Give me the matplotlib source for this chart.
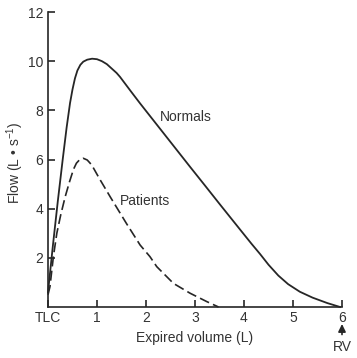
import matplotlib
matplotlib.use("Agg")
import matplotlib.pyplot as plt

plt.rcParams['font.family'] = ['Liberation Sans', 'DejaVu Sans']
plt.rcParams['mathtext.fontset'] = 'custom'
plt.rcParams['mathtext.rm'] = 'Liberation Sans'
plt.rcParams['mathtext.it'] = 'Liberation Sans:italic'

# ---- data ----
normals_vol = [0.0, 0.1, 0.2, 0.3, 0.38, 0.45, 0.5, 0.55, 0.6, 0.66, 0.72, 0.8, 0.9,
               1.0, 1.1, 1.2, 1.3, 1.4, 1.47, 1.7, 1.88, 2.22, 2.56, 2.9, 3.2, 3.51,
               3.92, 4.15, 4.33, 4.5, 4.7, 4.9, 5.14, 5.4, 5.7, 5.96]
normals_flow = [0.6, 2.5, 4.3, 6.0, 7.3, 8.3, 8.85, 9.3, 9.62, 9.85, 9.98, 10.06, 10.1,
                10.08, 10.0, 9.88, 9.7, 9.52, 9.36, 8.75, 8.28, 7.42, 6.56, 5.7, 4.95,
                4.17, 3.15, 2.58, 2.15, 1.72, 1.28, 0.93, 0.62, 0.38, 0.16, 0.0]

patients_vol = [0.0, 0.04, 0.11, 0.18, 0.26, 0.35, 0.44, 0.52, 0.58, 0.64, 0.72, 0.8,
                0.86, 0.92, 1.05, 1.27, 1.6, 1.88, 2.08, 2.22, 2.56, 2.9, 3.24, 3.48]
patients_flow = [0.5, 0.83, 2.05, 3.0, 3.75, 4.48, 5.1, 5.6, 5.85, 5.98, 6.05, 5.98,
                 5.85, 5.68, 5.22, 4.48, 3.4, 2.52, 2.05, 1.64, 0.96, 0.56, 0.22, 0.0]

x_ticks = [0, 1, 2, 3, 4, 5, 6]
x_tick_labels = ['TLC', '1', '2', '3', '4', '5', '6']
y_ticks = [2, 4, 6, 8, 10, 12]
y_tick_labels = ['2', '4', '6', '8', '10', '12']

ink = '#262626'
txt = '#333333'

fig = plt.figure(figsize=(3.57, 3.58), dpi=100)
ax = fig.add_axes([48 / 357, 1 - 307 / 358, 294 / 357, 295 / 358])

ax.plot(normals_vol, normals_flow, color=ink, lw=1.3, clip_on=False,
        solid_joinstyle='round')
ax.plot(patients_vol, patients_flow, color=ink, lw=1.2, clip_on=False,
        linestyle=(0, (6, 2.6)))

ax.set_xlim(0, 6)
ax.set_ylim(0, 12)
for s in ['top', 'right']:
    ax.spines[s].set_visible(False)
for s in ['left', 'bottom']:
    ax.spines[s].set_linewidth(1.2)
    ax.spines[s].set_color(ink)

ax.set_xticks(x_ticks)
ax.set_xticklabels(x_tick_labels)
ax.set_yticks(y_ticks)
ax.set_yticklabels(y_tick_labels)
ax.tick_params(axis='both', direction='in', length=5, width=1.2, color=ink,
               labelsize=10, labelcolor=txt)
ax.tick_params(axis='x', pad=3)
ax.tick_params(axis='y', pad=3.5)

ax.set_xlabel('Expired volume (L)', fontsize=10, color=txt)
ax.xaxis.set_label_coords(0.5, -0.08)
ax.set_ylabel('Flow (L • s$^{-1}$)', fontsize=10, color=txt)
ax.yaxis.set_label_coords(-0.075, 0.49)

ax.text(2.29, 7.72, 'Normals', fontsize=10, color=txt, ha='left', va='center')
ax.text(1.47, 4.3, 'Patients', fontsize=10, color=txt, ha='left', va='center')

# RV marker below the 6 tick
ax.annotate('', xy=(6, -0.69), xytext=(6, -1.12), annotation_clip=False,
            arrowprops=dict(arrowstyle='-|>,head_length=0.45,head_width=0.22',
                            color=ink, lw=1.2, shrinkA=0, shrinkB=0))
ax.text(6, -1.62, 'RV', fontsize=10, color=txt, ha='center', va='center',
        clip_on=False)

fig.savefig('out.png', dpi=100)
